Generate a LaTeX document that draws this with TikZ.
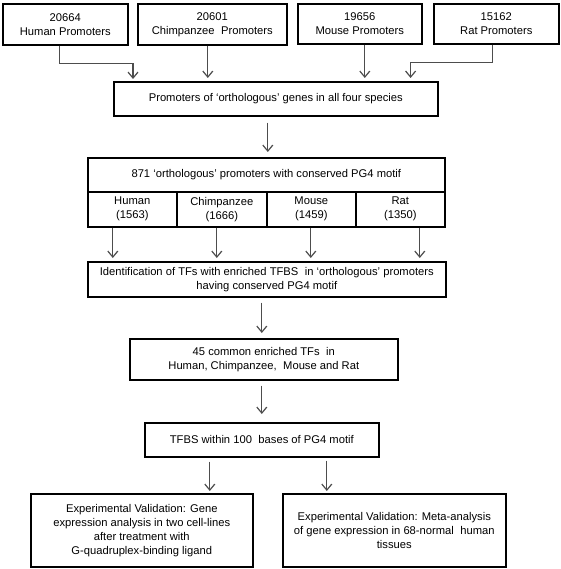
\documentclass[tikz,border=0pt]{standalone}
\usepackage{fontspec}
\setmainfont{Liberation Sans}
\usetikzlibrary{arrows.meta}
\definecolor{arrowgray}{HTML}{4D4D4D}
\begin{document}
\begin{tikzpicture}[x=1pt,y=-1pt,
  box/.style={draw=black, line width=1.6pt, fill=white, anchor=north west,
    align=center, inner sep=0pt, font=\fontsize{11.2}{14}\selectfont},
  arr/.style={draw=arrowgray, line width=1.2pt,
    -{Straight Barb[length=6pt,width=10pt,line width=1.2pt]}}]
\useasboundingbox (0,0) rectangle (560,569);
% top row
\node[box, minimum width=125pt, minimum height=41pt] (hum) at (2,3) {20664\\Human Promoters};
\node[box, minimum width=149pt, minimum height=41pt] (chi) at (137,3) {20601\\Chimpanzee\hspace{0.3em} Promoters};
\node[box, minimum width=124pt, minimum height=40pt] (mou) at (297,3) {19656\\Mouse Promoters};
\node[box, minimum width=125pt, minimum height=40pt] (rat) at (433,3) {15162\\Rat Promoters};
% promoters
\node[box, minimum width=324pt, minimum height=34pt] (prom) at (113,81) {Promoters of ‘orthologous’ genes in all four species};
% 871 box
\node[box, minimum width=357pt, minimum height=34pt] (hdr) at (87,157) {871 ‘orthologous’ promoters with conserved PG4 motif};
\node[box, minimum width=89pt, minimum height=35pt] (ch) at (87,191) {Human\\(1563)};
\node[box, minimum width=90pt, minimum height=35pt] (cc) at (176,191) {Chimpanzee\\(1666)};
\node[box, minimum width=89pt, minimum height=35pt] (cm) at (266,191) {Mouse\\(1459)};
\node[box, minimum width=89pt, minimum height=35pt] (cr) at (355,191) {Rat\\(1350)};
% identification
\node[box, minimum width=358pt, minimum height=35pt] (ident) at (87,261) {Identification of TFs with enriched TFBS\hspace{0.3em} in ‘orthologous’ promoters\\having conserved PG4 motif};
% 45 common
\node[box, minimum width=268pt, minimum height=41pt] (com) at (129,338) {45 common enriched TFs\hspace{0.3em} in\\Human, Chimpanzee,\hspace{0.3em} Mouse and Rat};
% TFBS
\node[box, minimum width=234pt, minimum height=34pt] (tfbs) at (144,422) {TFBS within 100\hspace{0.3em} bases of PG4 motif};
% bottom
\node[box, minimum width=222pt, minimum height=73pt] (val1) at (30,493) {Experimental Validation: Gene\\expression analysis in two cell-lines\\after treatment with\\G-quadruplex-binding ligand};
\node[box, minimum width=223pt, minimum height=73pt] (val2) at (282,493) {Experimental Validation: Meta-analysis\\of gene expression in 68-normal\hspace{0.3em} human\\tissues};
% arrows top
\draw[arr, shorten >=2pt] ([xshift=-5.5pt]hum.south) -- ++(0,18) -| ([xshift=20pt]prom.north west);
\draw[arr, shorten >=3pt] ([xshift=-4.5pt]chi.south) -- ([xshift=-4.5pt]chi.south |- prom.north);
\draw[arr, shorten >=3pt] ([xshift=5pt]mou.south) -- ([xshift=5pt]mou.south |- prom.north);
\draw[arr, shorten >=3pt] ([xshift=-3.5pt]rat.south) -- ++(0,18) -| ([xshift=-28pt]prom.north east);
\draw[arr, shorten <=6pt, shorten >=5pt] ([xshift=-8pt]prom.south) -- ([xshift=-8pt]prom.south |- hdr.north);
% cells to identification
\draw[arr, shorten >=3pt] ([xshift=-19.5pt]ch.south) -- ([xshift=-19.5pt]ch.south |- ident.north);
\draw[arr, shorten >=3pt] ([xshift=-5pt]cc.south) -- ([xshift=-5pt]cc.south |- ident.north);
\draw[arr, shorten >=3pt] ([xshift=-0.5pt]cm.south) -- ([xshift=-0.5pt]cm.south |- ident.north);
\draw[arr, shorten >=3pt] ([xshift=19.5pt]cr.south) -- ([xshift=19.5pt]cr.south |- ident.north);
% chain
\draw[arr, shorten <=5pt, shorten >=5pt] ([xshift=-5pt]ident.south) -- ([xshift=-5pt]ident.south |- com.north);
\draw[arr, shorten <=5pt, shorten >=8pt] ([xshift=-2pt]com.south) -- ([xshift=-2pt]com.south |- tfbs.north);
\draw[arr, shorten <=4pt, shorten >=2pt] ([xshift=-52pt]tfbs.south) -- ([xshift=-52pt]tfbs.south |- val1.north);
\draw[arr, shorten <=3pt, shorten >=2pt] ([xshift=65pt]tfbs.south) -- ([xshift=65pt]tfbs.south |- val2.north);
\end{tikzpicture}
\end{document}
